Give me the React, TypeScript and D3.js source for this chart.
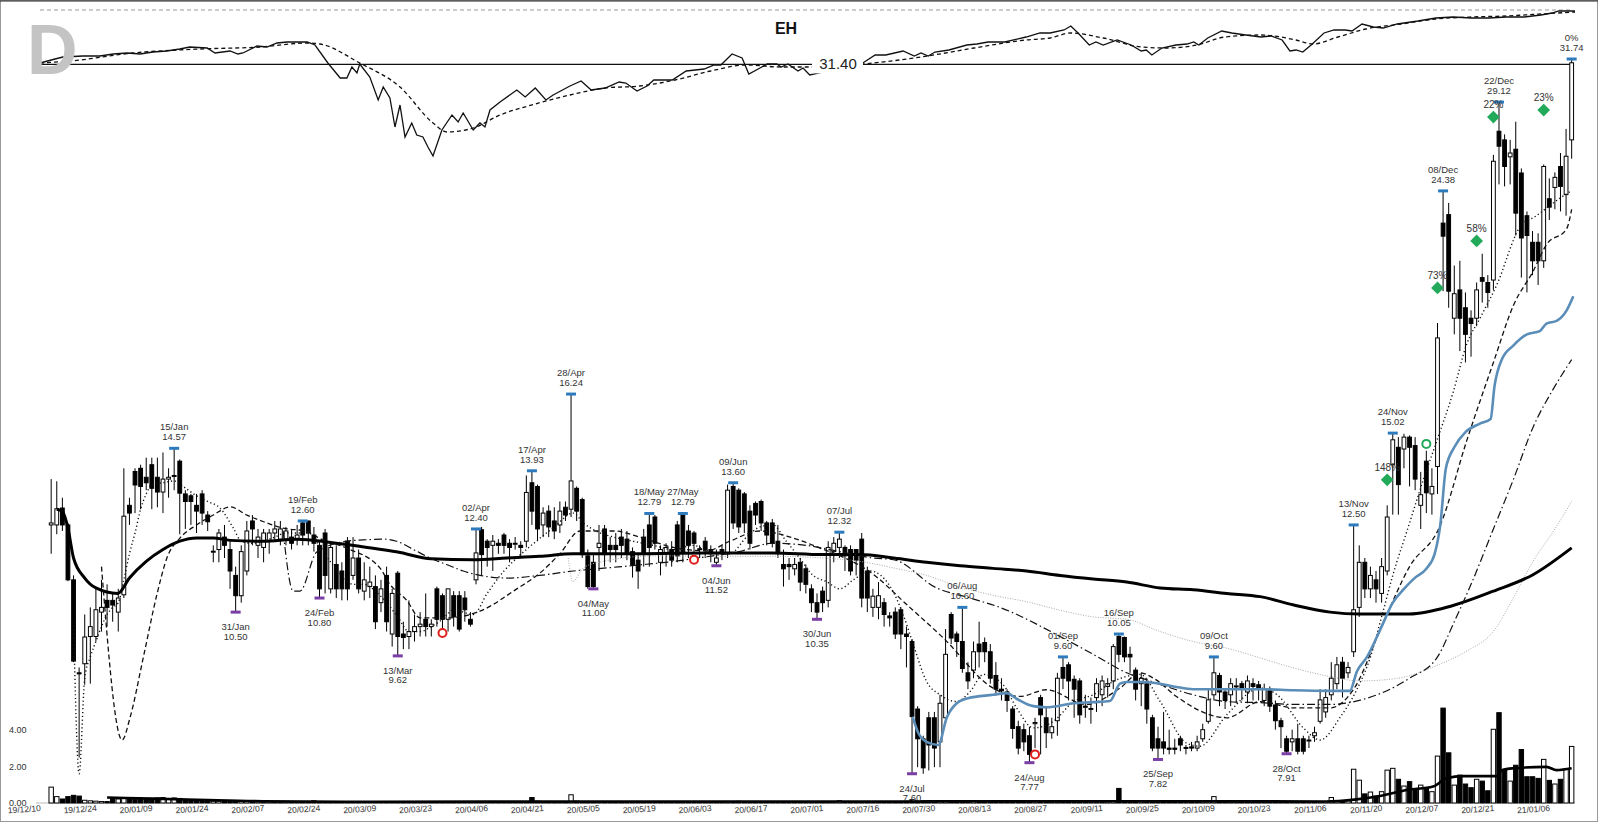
import * as d3 from "d3";

// trading-day index 0 = 2019-12-10, candles start at index 2 (first session)
const FIRST = 2;
const LAST = 274;

const tickLabels = [
  "19/12/10", "19/12/24", "20/01/09", "20/01/24", "20/02/07", "20/02/24", "20/03/09",
  "20/03/23", "20/04/06", "20/04/21", "20/05/05", "20/05/19", "20/06/03", "20/06/17",
  "20/07/01", "20/07/16", "20/07/30", "20/08/13", "20/08/27", "20/09/11", "20/09/25",
  "20/10/09", "20/10/23", "20/11/06", "20/11/20", "20/12/07", "20/12/21", "21/01/06",
];

// [open, high, low, close]
const ohlc: [number, number, number, number][] = [
  // 2
  [12.5, 13.7, 11.8, 12.55], [12.5, 13.64, 12.27, 12.91], [12.93, 13.2, 12.35, 12.5], [12.5, 12.55, 11.17, 11.2],
  [11.2, 11.3, 9.5, 9.52], [9.3, 9.4, 7.85, 9.28], [9.47, 10.45, 9.08, 9.99], [10.0, 10.6, 9.1, 10.2],
  // 10
  [10.0, 11.0, 9.9, 10.55], [10.5, 11.2, 10.1, 10.6], [10.75, 11.1, 10.2, 10.6], [10.75, 10.9, 10.3, 10.65],
  [10.5, 11.0, 10.1, 10.8], [10.87, 14.0, 10.8, 12.72], [13.0, 13.2, 12.5, 12.8], [13.91, 14.0, 12.8, 13.54],
  [14.0, 14.1, 12.9, 13.5], [13.75, 14.3, 13.4, 13.6],
  // 20
  [14.1, 14.3, 12.9, 13.45], [13.75, 14.3, 12.95, 13.35], [13.35, 14.45, 12.8, 13.7], [13.7, 14.0, 13.2, 13.75],
  [13.8, 14.57, 13.4, 13.8], [14.2, 14.25, 12.27, 13.32], [13.3, 13.4, 12.4, 13.1], [13.25, 13.3, 12.5, 13.1],
  [13.0, 13.3, 12.3, 12.85], [13.3, 13.4, 12.5, 12.8],
  // 30
  [12.75, 12.85, 12.35, 12.58], [11.85, 12.0, 11.6, 11.86], [11.9, 12.4, 11.6, 12.3], [12.2, 12.5, 11.7, 12.0],
  [11.9, 12.1, 11.0, 11.4], [11.3, 11.5, 10.5, 10.85], [10.85, 12.0, 10.7, 11.85], [11.4, 12.6, 11.3, 12.35],
  [12.6, 12.75, 12.0, 12.4], [12.0, 12.4, 11.7, 12.2],
  // 40
  [11.95, 12.4, 11.6, 12.3], [12.1, 12.4, 11.8, 12.3], [12.3, 12.6, 12.1, 12.4], [12.15, 12.6, 12.0, 12.4],
  [12.15, 12.45, 12.0, 12.35], [12.2, 12.4, 11.9, 12.05], [12.15, 12.5, 12.0, 12.25], [12.55, 12.6, 12.0, 12.25],
  [12.6, 12.6, 12.0, 12.3], [12.25, 12.45, 11.85, 12.05],
  // 50
  [12.0, 12.1, 10.8, 11.0], [12.3, 12.4, 10.9, 11.3], [11.0, 12.1, 10.9, 11.95], [11.55, 12.0, 10.8, 11.0],
  [11.4, 11.6, 10.75, 11.0], [12.1, 12.2, 10.75, 11.0], [11.3, 12.2, 11.2, 11.7], [11.7, 11.9, 10.9, 11.0],
  [10.95, 11.6, 10.75, 11.2], [11.05, 11.5, 10.8, 11.15],
  // 60
  [11.05, 11.3, 10.15, 10.3], [10.7, 11.2, 10.5, 11.0], [11.3, 11.5, 10.1, 10.3], [10.05, 11.0, 9.8, 10.9],
  [11.35, 11.4, 9.62, 10.0], [10.05, 10.3, 9.75, 9.98], [10.0, 10.75, 9.75, 10.1], [10.1, 10.45, 9.9, 10.2],
  [10.2, 10.5, 10.0, 10.25], [10.35, 10.9, 10.0, 10.2],
  // 70
  [10.2, 10.35, 10.0, 10.25], [11.0, 11.05, 10.2, 10.35], [10.85, 10.9, 10.1, 10.35], [10.35, 11.0, 10.1, 11.0],
  [10.85, 10.95, 10.2, 10.4], [10.85, 10.95, 10.1, 10.15], [10.8, 10.95, 10.3, 10.55], [10.35, 10.5, 10.2, 10.25],
  [11.2, 12.4, 11.1, 11.82], [12.38, 12.45, 11.3, 11.78],
  // 80
  [12.1, 12.15, 11.5, 11.95], [12.0, 12.25, 11.4, 12.1], [12.05, 12.15, 11.8, 12.0], [12.25, 12.3, 11.8, 12.0],
  [12.05, 12.15, 11.6, 11.95], [12.03, 12.2, 11.9, 12.05], [12.0, 12.1, 11.7, 11.95], [12.1, 13.8, 11.95, 13.34],
  [13.6, 13.93, 12.5, 12.85], [13.5, 13.55, 12.1, 12.4],
  // 90
  [12.5, 12.95, 12.2, 12.8], [12.85, 13.0, 12.2, 12.45], [12.6, 12.95, 12.15, 12.35], [12.5, 13.1, 12.3, 12.85],
  [12.95, 13.1, 12.6, 12.75], [12.9, 16.24, 12.7, 13.65], [13.45, 13.5, 12.6, 12.85], [13.15, 13.2, 11.7, 11.78],
  [11.75, 11.9, 11.0, 11.05], [11.6, 11.8, 11.0, 11.05],
  // 100
  [11.95, 12.5, 11.4, 12.05], [12.4, 12.5, 11.5, 11.78], [12.0, 12.2, 11.6, 11.9], [12.0, 12.3, 11.6, 11.9],
  [12.2, 12.4, 11.7, 12.0], [12.15, 12.35, 11.65, 11.8], [11.85, 11.95, 11.25, 11.55], [11.65, 11.8, 11.0, 11.4],
  [12.2, 12.4, 11.5, 11.8], [12.5, 12.79, 11.5, 11.95],
  // 110
  [12.7, 12.75, 11.9, 12.05], [11.6, 12.0, 11.3, 11.9], [11.8, 12.05, 11.5, 11.95], [11.9, 12.1, 11.5, 11.65],
  [12.5, 12.6, 11.6, 11.75], [12.75, 12.79, 11.6, 11.85], [12.35, 12.5, 11.7, 12.0], [12.3, 12.35, 11.8, 12.05],
  [11.9, 12.0, 11.7, 11.92], [12.1, 12.2, 11.7, 11.9],
  // 120
  [11.9, 12.0, 11.6, 11.8], [11.6, 11.9, 11.52, 11.7], [11.9, 12.0, 11.65, 11.8], [11.8, 13.55, 11.7, 13.4],
  [13.5, 13.6, 12.4, 12.55], [13.4, 13.45, 12.3, 12.45], [13.3, 13.35, 12.3, 12.55], [12.85, 13.0, 11.9, 12.05],
  [13.05, 13.1, 12.5, 12.75], [13.1, 13.15, 12.35, 12.55],
  // 130
  [12.55, 12.6, 12.0, 12.25], [12.55, 12.65, 11.95, 12.05], [12.1, 12.5, 11.7, 11.85], [11.55, 11.9, 11.05, 11.45],
  [11.55, 11.7, 11.2, 11.5], [11.45, 11.7, 11.3, 11.55], [11.6, 11.7, 10.95, 11.15], [11.45, 11.55, 10.9, 11.1],
  [11.0, 11.1, 10.5, 10.7], [10.7, 10.9, 10.35, 10.5],
  // 140
  [10.95, 11.05, 10.5, 10.7], [10.75, 12.1, 10.6, 11.95], [11.85, 12.2, 11.6, 12.05], [11.95, 12.32, 11.7, 12.15],
  [11.95, 12.0, 11.4, 11.75], [11.9, 12.0, 11.3, 11.4], [11.9, 11.9, 11.3, 11.65], [12.15, 12.3, 10.6, 10.8],
  [11.4, 11.5, 10.5, 10.8], [10.6, 11.0, 10.4, 10.84],
  // 150
  [10.6, 11.15, 10.35, 10.85], [10.7, 10.8, 10.2, 10.45], [10.42, 10.5, 10.2, 10.38], [10.5, 10.6, 9.95, 10.05],
  [10.55, 10.6, 9.75, 10.05], [10.05, 10.2, 9.4, 10.0], [9.9, 9.95, 7.6, 8.52], [8.65, 8.7, 7.7, 8.15],
  [8.15, 8.2, 7.6, 7.69], [8.5, 8.6, 7.65, 8.05],
  // 160
  [8.5, 8.6, 7.7, 8.0], [8.1, 8.9, 7.7, 8.75], [8.5, 10.15, 8.4, 9.65], [10.45, 10.5, 9.85, 9.97],
  [10.05, 10.1, 9.6, 9.9], [9.9, 10.6, 9.3, 9.38], [9.3, 9.5, 9.0, 9.15], [9.35, 9.9, 9.2, 9.7],
  [9.85, 10.3, 9.4, 9.7], [9.88, 9.98, 9.5, 9.7],
  // 170
  [9.7, 9.85, 9.1, 9.2], [9.25, 9.5, 8.9, 9.0], [9.0, 9.2, 8.8, 8.97], [8.95, 9.0, 8.6, 8.8],
  [8.65, 8.7, 8.15, 8.32], [8.35, 8.45, 7.9, 8.0], [8.3, 8.4, 7.95, 8.1], [8.2, 8.35, 7.77, 7.9],
  [8.4, 8.5, 8.0, 8.42], [8.85, 8.9, 7.9, 8.55],
  // 180
  [8.5, 8.7, 8.0, 8.25], [8.25, 8.5, 8.15, 8.35], [8.45, 9.3, 8.2, 9.2], [9.4, 9.6, 9.0, 9.2],
  [9.45, 9.5, 8.8, 9.15], [9.18, 9.25, 8.5, 9.0], [9.15, 9.2, 8.4, 8.55], [8.7, 8.9, 8.5, 8.68],
  [8.65, 8.85, 8.4, 8.66], [8.85, 9.2, 8.6, 9.1],
  // 190
  [8.9, 9.25, 8.7, 9.15], [9.05, 9.2, 8.85, 9.1], [9.15, 9.85, 9.0, 9.8], [10.0, 10.05, 9.5, 9.65],
  [9.98, 10.0, 9.5, 9.6], [9.65, 9.8, 9.3, 9.6], [9.35, 9.4, 8.8, 9.0], [9.1, 9.3, 8.7, 9.2],
  [9.1, 9.2, 8.4, 8.65], [8.5, 8.55, 7.95, 8.0],
  // 200
  [8.15, 8.35, 7.82, 8.0], [8.1, 8.6, 7.9, 8.0], [8.0, 8.3, 7.9, 7.98], [8.0, 8.15, 7.9, 7.98],
  [8.15, 8.2, 7.95, 8.05], [8.0, 8.05, 7.9, 8.01], [8.02, 8.1, 7.95, 8.0], [8.0, 8.2, 7.95, 8.1],
  [8.15, 8.4, 8.1, 8.3], [8.44, 9.0, 8.4, 8.81],
  // 210
  [8.9, 9.6, 8.8, 9.3], [9.25, 9.3, 8.7, 8.95], [8.95, 9.0, 8.65, 8.8], [8.9, 9.2, 8.7, 9.1],
  [9.05, 9.2, 8.75, 9.06], [9.1, 9.15, 8.8, 9.0], [8.95, 9.25, 8.75, 9.15], [9.1, 9.2, 8.8, 9.05],
  [9.08, 9.15, 8.8, 9.0], [8.8, 9.1, 8.7, 9.0],
  // 220
  [9.0, 9.05, 8.6, 8.7], [8.72, 8.8, 8.3, 8.45], [8.45, 8.5, 8.0, 8.35], [8.15, 8.2, 7.91, 7.95],
  [8.1, 8.3, 7.95, 8.15], [8.15, 8.4, 7.9, 7.95], [8.15, 8.2, 7.9, 7.95], [8.12, 8.2, 8.0, 8.13],
  [8.2, 8.35, 8.1, 8.25], [8.44, 9.0, 8.4, 8.81],
  // 230
  [8.6, 9.0, 8.5, 8.85], [8.9, 9.5, 8.8, 9.2], [9.1, 9.6, 9.0, 9.45], [9.5, 9.6, 8.85, 9.2],
  [9.3, 9.5, 9.2, 9.4], [9.7, 12.5, 9.6, 10.55], [10.6, 12.0, 10.4, 11.6], [11.6, 11.7, 10.8, 11.0],
  [11.0, 11.5, 10.8, 11.3], [11.2, 11.4, 10.7, 11.0],
  // 240
  [10.9, 11.7, 10.7, 11.5], [11.4, 13.0, 11.3, 12.7], [14.1, 15.02, 12.76, 14.82], [14.6, 14.9, 12.76, 13.55],
  [14.55, 15.0, 14.0, 14.9], [14.9, 14.95, 13.5, 14.6], [14.65, 14.9, 13.4, 13.7], [13.0, 13.9, 12.4, 13.28],
  [14.2, 14.5, 12.8, 13.33], [13.3, 14.0, 12.76, 13.5],
  // 250
  [14.05, 18.72, 13.3, 18.17], [22.86, 24.38, 19.95, 22.27], [23.25, 23.8, 19.3, 19.95], [18.9, 21.0, 18.3, 19.85],
  [20.0, 21.2, 17.7, 18.9], [19.3, 19.9, 17.3, 18.3], [18.9, 19.2, 17.5, 18.7], [18.9, 20.3, 18.6, 20.0],
  [20.5, 21.5, 19.5, 20.35], [20.3, 20.6, 19.3, 19.9],
  // 260
  [20.4, 26.2, 20.0, 25.87], [27.47, 29.12, 24.7, 26.66], [27.0, 27.3, 24.6, 25.6], [26.1, 27.0, 24.7, 26.3],
  [26.5, 28.0, 22.3, 23.32], [25.27, 25.5, 20.5, 22.19], [23.2, 23.4, 19.9, 22.3], [22.0, 22.5, 20.6, 21.2],
  [22.0, 22.4, 20.2, 21.2], [21.2, 25.7, 20.9, 25.6],
  // 270
  [24.0, 25.0, 23.0, 23.6], [24.55, 25.3, 23.5, 25.05], [25.6, 26.3, 23.4, 24.6], [24.2, 27.6, 23.2, 26.13],
  [27.0, 31.74, 26.0, 31.5],
];

// volume in millions, index 2..274
const volume: number[] = [
  0.87, 0.35, 0.22, 0.35, 0.42, 0.38, 0.15, 0.12, 0.1, 0.08, 0.08,
  0.25, 0.22, 0.3, 0.25, 0.2, 0.22, 0.2, 0.25, 0.28, 0.3, 0.25, 0.28, 0.25, 0.2, 0.18, 0.15, 0.14, 0.12,
  0.1, 0.09, 0.08, 0.1, 0.09, 0.08, 0.08, 0.07, 0.07, 0.06, 0.07, 0.06, 0.06, 0.07, 0.06, 0.06, 0.07, 0.06,
  0.12,
  0.07, 0.06, 0.06, 0.07, 0.06, 0.06, 0.07, 0.06, 0.06, 0.05, 0.06, 0.06, 0.07, 0.06, 0.08, 0.06, 0.05, 0.06, 0.05,
  0.05, 0.06, 0.07, 0.06, 0.05, 0.06, 0.05, 0.05, 0.06, 0.08, 0.06, 0.05, 0.05, 0.06, 0.05, 0.05, 0.06, 0.05, 0.06,
  0.3,
  0.1, 0.08, 0.07, 0.06, 0.06, 0.07,
  0.45,
  0.1, 0.08, 0.07, 0.06, 0.06, 0.05, 0.05, 0.05, 0.06, 0.05, 0.05, 0.06, 0.06, 0.06, 0.05,
  0.05, 0.05, 0.05, 0.06, 0.05, 0.05, 0.05, 0.05, 0.05, 0.05, 0.06, 0.05, 0.07, 0.06,
  0.09,
  0.06, 0.05, 0.05, 0.05, 0.05, 0.05, 0.05, 0.05, 0.05, 0.05, 0.05, 0.05, 0.05, 0.05, 0.05, 0.06, 0.07,
  0.12,
  0.07, 0.06, 0.06, 0.07, 0.07, 0.06, 0.06, 0.06, 0.06, 0.07, 0.07, 0.08,
  0.18,
  0.12, 0.1, 0.1, 0.09, 0.09, 0.11, 0.09, 0.08, 0.09, 0.08, 0.08, 0.08, 0.08, 0.07, 0.07, 0.07, 0.07, 0.08, 0.08,
  0.12,
  0.08, 0.07, 0.07, 0.07, 0.06, 0.06, 0.07, 0.06, 0.06, 0.06, 0.06, 0.06, 0.06, 0.06, 0.07, 0.08,
  0.8,
  0.1, 0.08, 0.07, 0.07, 0.07, 0.07, 0.07, 0.06, 0.06, 0.06, 0.06, 0.06, 0.06, 0.06, 0.07, 0.08,
  0.35,
  0.1, 0.08, 0.07, 0.07, 0.06, 0.06, 0.06, 0.06, 0.06, 0.06, 0.06, 0.07, 0.07, 0.06, 0.06, 0.06, 0.06, 0.06, 0.07, 0.08,
  0.3,
  0.12, 0.1, 0.12,
  1.85, 1.25, 0.5, 0.6, 0.38, 0.62, 1.8, 1.9, 1.3, 0.93, 1.17, 0.8, 0.98, 0.8, 0.62, 2.57, 5.2, 2.75, 0.98, 1.53,
  1.04, 0.84, 1.3, 1.2, 0.67, 4.04, 4.95, 1.8, 1.2, 2.07, 2.93, 1.44, 1.44, 1.35, 2.39, 1.24, 1.04, 1.3, 1.85, 3.1,
];

// indicator lines: [index, price]
const shortAvg: [number, number][] = [
  [6, 10.3], [7, 7.6], [8, 9.2], [9, 9.6], [10, 9.9], [11, 10.2], [12, 10.45], [13, 10.6], [14, 10.7], [15, 11.2],
  [16, 11.8], [17, 12.3], [18, 12.9], [19, 13.3], [20, 13.55], [22, 13.6], [24, 13.65], [25.6, 13.5], [28, 13.25],
  [30, 13.1], [32.2, 12.93], [34.6, 12.42], [36, 12.1], [38, 12.05], [40, 12.1], [42, 12.2], [44, 12.3], [46, 12.3],
  [48, 12.3], [50, 12.0], [52, 11.6], [54, 11.3], [56, 11.1], [58, 11.1], [60, 10.95], [62, 10.7], [64, 10.4],
  [66, 10.1], [68, 10.1], [70, 10.2], [72, 10.35], [74, 10.55], [77.5, 10.45], [80, 10.9], [83, 11.4], [85.3, 11.7],
  [88.8, 12.1], [92, 12.45], [95.4, 12.8], [97.2, 12.55], [99.6, 12.34], [102.6, 12.2], [106.1, 12.1], [109.7, 12.0],
  [113.3, 11.9], [116.9, 12.0], [120.4, 11.8], [123.4, 11.8], [126.4, 12.2], [128.8, 12.45], [131.1, 12.5],
  [133.5, 12.1], [135.9, 11.7], [138.3, 11.3], [140.7, 11.16], [143.1, 11.0], [145.5, 11.2], [148.5, 11.4],
  [152, 11.07], [154.4, 10.45], [156.2, 9.85], [158.6, 9.14], [161, 8.9], [164, 8.78], [166.4, 8.96], [168.8, 9.27],
  [172.3, 9.08], [174.7, 8.67], [177.7, 8.33], [181.3, 8.44], [184.9, 8.78], [188.4, 8.9], [192, 9.14], [196.8, 9.27],
  [200.4, 8.78], [205.1, 8.08], [207.5, 8.03], [212.3, 8.55], [218.3, 9.02], [221.3, 8.9], [226, 8.33], [229, 8.13],
  [232.6, 8.51], [235.5, 8.98], [238, 9.6], [240, 10.4], [242, 11.3], [244.8, 12.46], [247.5, 13.7], [249.9, 14.8],
  [252.8, 16.3], [255.2, 17.93], [257.6, 18.9], [260.6, 20.2], [264.8, 22.7], [267.7, 23.2], [270.7, 23.8], [274, 24.4],
];

const midAvg: [number, number][] = [
  [11, 11.5], [14.7, 8.13], [16.1, 8.5], [18.5, 9.6], [20.9, 10.87], [22.7, 11.7], [25, 12.17], [28, 12.5],
  [31, 12.75], [34, 12.96], [37, 12.75], [40, 12.58], [43.5, 12.42], [47.7, 12.34], [50, 12.17], [54.9, 11.93],
  [60.8, 11.47], [62.6, 11.1], [65.6, 10.75], [68, 10.38], [72.7, 10.38], [78.7, 10.52], [85.3, 11.0], [89.4, 11.35],
  [93, 11.8], [96.6, 12.35], [102.6, 12.35], [107.3, 12.2], [113.3, 11.95], [119.3, 11.87], [123.4, 12.1],
  [128.8, 12.35], [134.2, 12.2], [140.2, 11.9], [144, 11.7], [147.9, 11.43], [155.6, 10.6], [161.6, 9.97],
  [170.5, 9.02], [175.3, 8.87], [180, 8.99], [187.2, 8.73], [193.2, 9.02], [196.8, 9.3], [199.2, 9.2], [203.3, 8.87],
  [209.3, 8.55], [212.3, 8.5], [218.3, 8.78], [224.3, 8.67], [230.8, 8.67], [235, 9.0], [240, 10.2], [245, 11.5],
  [250.4, 12.46], [255.2, 14.78], [260, 17.3], [263.6, 19.4], [267.1, 20.76], [269.5, 21.9], [273.1, 22.6], [274, 23.5],
];

const longAvg: [number, number][] = [
  [43.5, 12.34], [45.3, 10.95], [46.5, 10.95], [49.5, 11.84], [54.9, 12.1], [57.8, 12.13], [61.4, 12.15],
  [63.8, 12.1], [66.8, 11.9], [69.8, 11.7], [72.7, 11.55], [75.7, 11.4], [78.7, 11.3], [83.5, 11.24], [89.4, 11.3],
  [95.4, 11.4], [101.4, 11.47], [107.3, 11.54], [113.3, 11.62], [119.3, 11.73], [125, 11.85], [131, 12.05],
  [137.1, 12.0], [143.1, 11.85], [149, 11.7], [152.7, 11.66], [160.4, 11.02], [166.4, 10.8], [171.7, 10.6],
  [183, 9.97], [188.4, 9.65], [194.4, 9.3], [198.6, 9.15], [206.3, 8.9], [212.3, 8.78], [218.3, 8.76], [224.3, 8.73],
  [230.8, 8.73], [236, 8.8], [245, 9.2], [250, 9.6], [253, 10.3], [256, 11.1], [260, 12.4], [263.6, 13.7],
  [267.1, 15.2], [270.7, 16.4], [274, 17.4],
];

const greyAvg: [number, number][] = [
  [94.5, 11.7], [95.3, 11.16], [97.2, 11.47], [100, 11.6], [110, 11.75], [122.3, 11.74], [131.2, 11.74],
  [140.2, 11.7], [146.7, 11.62], [152.7, 11.47], [158.6, 11.3], [164.6, 11.04], [170.5, 10.86], [176.5, 10.72],
  [182.5, 10.54], [188.4, 10.4], [194.4, 10.35], [200.4, 10.1], [206.3, 9.9], [212.3, 9.77], [218.3, 9.58],
  [224.3, 9.39], [230.8, 9.23], [236, 9.15], [243, 9.2], [249, 9.4], [255, 9.7], [260, 10.1], [264, 10.9],
  [267, 11.6], [271, 12.4], [274, 13.1],
];

const heavyAvg: [number, number][] = [
  [3, 12.9], [4, 12.84], [5, 12.42], [6, 11.7], [8, 11.24], [10, 11.02], [13.9, 10.9], [16, 11.24], [19, 11.62],
  [22, 11.9], [25, 12.1], [28, 12.18], [31, 12.18], [34, 12.12], [40, 12.1], [46, 12.15], [52, 12.07], [58, 11.96],
  [64, 11.84], [70, 11.68], [77.5, 11.66], [83.5, 11.7], [89.4, 11.74], [95.4, 11.8], [107, 11.8], [119, 11.82],
  [131, 11.82], [140, 11.78], [146.7, 11.78], [152.7, 11.7], [158.6, 11.6], [164.6, 11.52], [170.5, 11.46],
  [176.5, 11.4], [182.5, 11.3], [188.4, 11.22], [194.4, 11.15], [200.4, 11.02], [206.3, 10.98], [212.3, 10.9],
  [218.3, 10.83], [224.3, 10.65], [230.8, 10.5], [236, 10.46], [245, 10.46], [252.5, 10.63], [260, 10.95],
  [267, 11.31], [274, 11.94],
];

const blueLine: [number, number][] = [
  [156.1, 8.52], [157.1, 8.25], [158.6, 8.1], [160.7, 8.05], [162.2, 8.5], [164, 8.75], [166, 8.84], [170.5, 8.9],
  [172.9, 8.93], [174.7, 8.83], [177.7, 8.7], [180, 8.68], [184.9, 8.75], [188.4, 8.77], [191.4, 8.79], [193.2, 9.1],
  [194.4, 9.13], [197.4, 9.13], [200.4, 9.1], [203.3, 9.04], [206.3, 9.0], [212.3, 9.0], [218.3, 9.0], [224.3, 8.98],
  [230.8, 8.97], [234.3, 8.97], [235.6, 9.33], [237.4, 9.6], [240, 10.2], [242, 10.7], [244, 11.0], [246, 11.25],
  [248, 11.45], [249.5, 11.8], [250.5, 12.5], [251.5, 14.0], [253, 14.6], [255, 15.05], [257.5, 15.3], [259.5, 15.45],
  [260.2, 16.5], [261.5, 17.4], [263.6, 17.9], [266, 18.3], [268.3, 18.42], [269.5, 18.7], [271.3, 18.8],
  [273.1, 19.2], [274.3, 19.75],
];

const volumeAvg: [number, number][] = [
  [12, 0.3], [20, 0.24], [30, 0.16], [40, 0.1], [60, 0.07], [100, 0.08], [150, 0.08], [170, 0.1], [200, 0.1],
  [230, 0.08], [235.5, 0.2], [239.7, 0.38], [244.5, 0.71], [249.2, 0.9], [251.6, 1.35], [254.6, 1.47],
  [260.6, 1.47], [261.5, 1.8], [263.6, 1.9], [269.5, 1.98], [271.3, 1.8], [274, 1.9],
];

// relative strength panel (start = 100)
const rsLine: [number, number][] = [
  [0, 100], [2.7, 104], [4.1, 106], [7.7, 107], [10.7, 107], [13.1, 109], [15.6, 110], [17.9, 109], [20.2, 111],
  [22.7, 112], [25, 114], [26.8, 116], [29.9, 115], [31.3, 110], [34, 112], [35.4, 109], [36.3, 110], [38.8, 117],
  [40.6, 116], [42.4, 120], [44.2, 121], [46.5, 121], [47.8, 121], [49.2, 118], [51.5, 100], [53.7, 85], [54.9, 85],
  [55.8, 96], [56.7, 90], [57.2, 99], [59, 86], [60.5, 63], [61.4, 76], [62.6, 65], [63.5, 36], [64.4, 58],
  [65.3, 26], [66.5, 40], [67.4, 28], [68.5, 26], [69.4, 16], [70.3, 7], [71.9, 33], [73.7, 48], [74.8, 41],
  [75.7, 50], [77.5, 33], [78.7, 40], [79.6, 36], [80.5, 53], [82.3, 61], [85.3, 73], [86.8, 66], [88.6, 75],
  [90.5, 63], [91.8, 68], [94.8, 77], [96.8, 82], [98.6, 73], [101.1, 75], [103.6, 81], [104.8, 80], [106.8, 72],
  [108.6, 77], [109.8, 83], [111.8, 83], [113.1, 83], [115.6, 92], [118.8, 94], [120.6, 98], [121.8, 98],
  [123.8, 109], [125.6, 105], [126.8, 89], [128.8, 95], [130.1, 99], [131.8, 99], [132.6, 96], [133.8, 99],
  [135.6, 92], [136.5, 95], [137.7, 88], [147.2, 100], [149.4, 108], [151.3, 108], [154.4, 112], [156.4, 107],
  [157.6, 110], [158.9, 107], [160.1, 111], [162.6, 113], [165.8, 118], [167.6, 119], [169.6, 121], [172.6, 121],
  [176.4, 126], [178.9, 130], [180.7, 130], [183.2, 133], [184.4, 137], [185.7, 130], [187.7, 118], [188.9, 121],
  [190.2, 118], [192.7, 123], [195.2, 118], [197, 112], [197.9, 113], [198.9, 108], [200.7, 115], [203.2, 118],
  [205.2, 119], [206.4, 121], [207.3, 118], [208.9, 125], [211.4, 132], [213.2, 130], [215.7, 128], [218.4, 126],
  [220.2, 127], [222.2, 123], [223.6, 112], [224.7, 113], [225.9, 111], [227.4, 118], [229.7, 130], [231.5, 133],
  [233.5, 133], [234.7, 132], [236.5, 139], [238.5, 136], [240.3, 135], [242.8, 139], [246.5, 142], [249.7, 145],
  [252.8, 146], [256, 145], [259.2, 145], [262.3, 146], [265.5, 146], [268.5, 148], [270.5, 150], [271.7, 152],
  [273, 152], [274.6, 152],
];

const rsAvg: [number, number][] = [
  [0, 100], [5.4, 102], [16.6, 110], [28.6, 114], [39.4, 116], [47.8, 120], [50.1, 119], [57.2, 100], [64.4, 76],
  [70.3, 40], [72.8, 31], [77.5, 35], [82.3, 48], [88.6, 59], [94.8, 68], [101.1, 75], [107.3, 77], [113.6, 83],
  [120, 92], [126.3, 98], [132.6, 96], [137.6, 96], [147.2, 99], [157.6, 106], [167.1, 115], [176.4, 123],
  [180.7, 125], [184.4, 130], [190.2, 125], [197, 116], [201.4, 115], [207, 118], [212, 126], [218.4, 128],
  [224.7, 123], [227.7, 119], [232.2, 126], [237.2, 134], [243.5, 139], [249.7, 144], [256, 146], [262.3, 147],
  [268.5, 149], [274.6, 151],
];
const RS_CEILING = 153;
const LEVEL = 31.4;

const highs = [
  { i: 24, d: "15/Jan", p: 14.57 }, { i: 47, d: "19/Feb", p: 12.6 }, { i: 78, d: "02/Apr", p: 12.4 },
  { i: 88, d: "17/Apr", p: 13.93 }, { i: 95, d: "28/Apr", p: 16.24 }, { i: 109, d: "18/May", p: 12.79 },
  { i: 115, d: "27/May", p: 12.79 }, { i: 124, d: "09/Jun", p: 13.6 }, { i: 143, d: "07/Jul", p: 12.32 },
  { i: 165, d: "06/Aug", p: 10.6 }, { i: 183, d: "01/Sep", p: 9.6 }, { i: 193, d: "16/Sep", p: 10.05 },
  { i: 210, d: "09/Oct", p: 9.6 }, { i: 235, d: "13/Nov", p: 12.5 }, { i: 242, d: "24/Nov", p: 15.02 },
  { i: 251, d: "08/Dec", p: 24.38 }, { i: 261, d: "22/Dec", p: 29.12 }, { i: 274, d: "0%", p: 31.74 },
];
const lows = [
  { i: 35, d: "31/Jan", p: 10.5 }, { i: 50, d: "24/Feb", p: 10.8 }, { i: 64, d: "13/Mar", p: 9.62 },
  { i: 99, d: "04/May", p: 11.0 }, { i: 121, d: "04/Jun", p: 11.52 }, { i: 139, d: "30/Jun", p: 10.35 },
  { i: 156, d: "24/Jul", p: 7.6 }, { i: 177, d: "24/Aug", p: 7.77 }, { i: 200, d: "25/Sep", p: 7.82 },
  { i: 223, d: "28/Oct", p: 7.91 },
];
const gains = [
  { i: 241, p: 13.68, t: "148%" }, { i: 250, p: 20.08, t: "73%" }, { i: 257, p: 22.06, t: "58%" },
  { i: 260, p: 28.26, t: "22%" }, { i: 269, p: 28.66, t: "23%" },
];
const redRings: [number, number][] = [[72, 10.07], [117, 11.66], [178, 7.9]];
const greenRings: [number, number][] = [[248, 14.7]];
const volumeTicks = [0, 2, 4];

const FONT = "'Liberation Sans', Arial, Helvetica, sans-serif";
const TEXT = "#333";
const BLUE = "#2d7bbd";
const PURPLE = "#7a3ea4";
const GREEN = "#22a95a";

export default function App() {
  const x = d3.scaleLinear().domain([0, LAST]).range([40, 40 + LAST * 5.59]);
  const y = d3.scaleLog().domain([7.24, 31.74]).range([798, 59]);
  const vy = d3.scaleLinear().domain([0, 4]).range([803, 730]);
  const rsY = d3.scaleLinear().domain([0, 150]).range([163, 13]);

  const priceLine = d3
    .line<[number, number]>()
    .x((d) => x(d[0]))
    .y((d) => y(d[1]))
    .curve(d3.curveMonotoneX);
  const rsPath = d3
    .line<[number, number]>()
    .x((d) => x(d[0]))
    .y((d) => rsY(d[1]));
  const volPath = d3
    .line<[number, number]>()
    .x((d) => x(d[0]))
    .y((d) => vy(d[1]))
    .curve(d3.curveMonotoneX);

  const body = 3.8;
  const levelY = y(LEVEL);

  return (
    <div style={{ position: "fixed", left: 0, top: 0, width: 1600, height: 823, background: "#fff" }}>
      <svg width={1600} height={823} style={{ display: "block", fontFamily: FONT }}>
        <rect x={0.5} y={0.5} width={1597} height={821} fill="#fff" stroke="#999" />
        <line x1={0} x2={1598} y1={1} y2={1} stroke="#222" strokeWidth={1.2} />

        {/* relative strength panel */}
        <line x1={x(0)} x2={x(LAST)} y1={rsY(RS_CEILING)} y2={rsY(RS_CEILING)} stroke="#999" strokeDasharray="4,3" />
        <line x1={x(0)} x2={x(LAST) + 2} y1={levelY} y2={levelY} stroke="#111" strokeWidth={1.2} />
        <path d={rsAvg.length ? rsPath.curve(d3.curveMonotoneX)(rsAvg) ?? "" : ""} fill="none" stroke="#111" strokeWidth={1.3} strokeDasharray="4,3" />
        <path d={rsPath.curve(d3.curveLinear)(rsLine) ?? ""} fill="none" stroke="#111" strokeWidth={1.3} />
        <rect x={812} y={levelY - 9} width={51} height={18} fill="#fff" />
        <text x={838} y={levelY + 5} textAnchor="middle" fontSize={15} fill="#222">
          31.40
        </text>
        <text x={27} y={74} fontSize={70} fontWeight="bold" fill="#c4c4c4">
          D
        </text>
        <text x={786} y={34} textAnchor="middle" fontSize={16} fontWeight="bold" fill="#111">
          EH
        </text>

        {/* volume */}
        <line x1={36} x2={x(LAST) + 3} y1={vy(0)} y2={vy(0)} stroke="#bbb" />
        {volume.map((v, k) => {
          const i = FIRST + k;
          const c = ohlc[k];
          if (!c) return null;
          const up = c[3] >= c[0];
          const top = vy(v);
          return (
            <rect
              key={`v${i}`}
              x={x(i) - 2.2}
              y={top}
              width={4.4}
              height={Math.max(0.6, vy(0) - top)}
              fill={up ? "#fff" : "#000"}
              stroke="#000"
              strokeWidth={1}
            />
          );
        })}
        <path d={volPath(volumeAvg) ?? ""} fill="none" stroke="#000" strokeWidth={2.6} />
        {volumeTicks.map((t) => (
          <text key={`vt${t}`} x={9} y={vy(t) + 3} fontSize={9} fill={TEXT}>
            {t.toFixed(2)}
          </text>
        ))}

        {/* candles */}
        {ohlc.map(([o, h, l, c], k) => {
          const i = FIRST + k;
          const cx = x(i);
          const up = c >= o;
          const top = y(Math.max(o, c));
          const bot = y(Math.min(o, c));
          return (
            <g key={`c${i}`}>
              <line x1={cx} x2={cx} y1={y(h)} y2={y(l)} stroke="#000" strokeWidth={1} />
              <rect
                x={cx - body / 2}
                y={top}
                width={body}
                height={Math.max(1, bot - top)}
                fill={up ? "#fff" : "#000"}
                stroke="#000"
                strokeWidth={1}
              />
            </g>
          );
        })}

        {/* moving averages */}
        <path d={priceLine(greyAvg) ?? ""} fill="none" stroke="#aaa" strokeWidth={1} strokeDasharray="1,1.5" />
        <path d={priceLine(heavyAvg) ?? ""} fill="none" stroke="#000" strokeWidth={3} />
        <path d={priceLine(longAvg) ?? ""} fill="none" stroke="#111" strokeWidth={1.2} strokeDasharray="8,3,1.5,3" />
        <path d={priceLine(midAvg) ?? ""} fill="none" stroke="#111" strokeWidth={1.3} strokeDasharray="5,3" />
        <path d={priceLine(shortAvg) ?? ""} fill="none" stroke="#111" strokeWidth={1.4} strokeDasharray="1.2,2.6" />
        <path d={priceLine(blueLine) ?? ""} fill="none" stroke="#5b8db9" strokeWidth={2.6} />

        {/* high / low markers */}
        {highs.map((m) => {
          const mx = x(m.i);
          const my = y(m.p);
          return (
            <g key={`h${m.i}`}>
              <line x1={mx - 5} x2={mx + 5} y1={my} y2={my} stroke={BLUE} strokeWidth={3} />
              <text x={mx} y={my - 18} textAnchor="middle" fontSize={9.5} fill={TEXT}>
                {m.d}
              </text>
              <text x={mx} y={my - 8} textAnchor="middle" fontSize={9.5} fill={TEXT}>
                {m.p.toFixed(2)}
              </text>
            </g>
          );
        })}
        {lows.map((m) => {
          const mx = x(m.i);
          const my = y(m.p);
          return (
            <g key={`l${m.i}`}>
              <line x1={mx - 5} x2={mx + 5} y1={my} y2={my} stroke={PURPLE} strokeWidth={3} />
              <text x={mx} y={my + 18} textAnchor="middle" fontSize={9.5} fill={TEXT}>
                {m.d}
              </text>
              <text x={mx} y={my + 27.5} textAnchor="middle" fontSize={9.5} fill={TEXT}>
                {m.p.toFixed(2)}
              </text>
            </g>
          );
        })}
        {gains.map((g) => {
          const gx = x(g.i);
          const gy = y(g.p);
          return (
            <g key={`g${g.i}`}>
              <rect x={gx - 4.5} y={gy - 4.5} width={9} height={9} fill={GREEN} transform={`rotate(45 ${gx} ${gy})`} />
              <text x={gx} y={gy - 9} textAnchor="middle" fontSize={10} fill={TEXT}>
                {g.t}
              </text>
            </g>
          );
        })}
        {redRings.map(([i, p]) => (
          <circle key={`r${i}`} cx={x(i)} cy={y(p)} r={4} fill="#fff" stroke="#e0201c" strokeWidth={2} />
        ))}
        {greenRings.map(([i, p]) => (
          <circle key={`gr${i}`} cx={x(i)} cy={y(p)} r={4} fill="#fff" stroke={GREEN} strokeWidth={2} />
        ))}

        {/* date axis */}
        {tickLabels.map((t, k) => {
          const tx = x(k * 10) + 1;
          const ty = 811;
          return (
            <text
              key={t}
              x={tx}
              y={ty}
              textAnchor="end"
              fontSize={8.5}
              fill={TEXT}
              transform={`rotate(-4 ${tx} ${ty})`}
            >
              {t}
            </text>
          );
        })}
      </svg>
    </div>
  );
}
